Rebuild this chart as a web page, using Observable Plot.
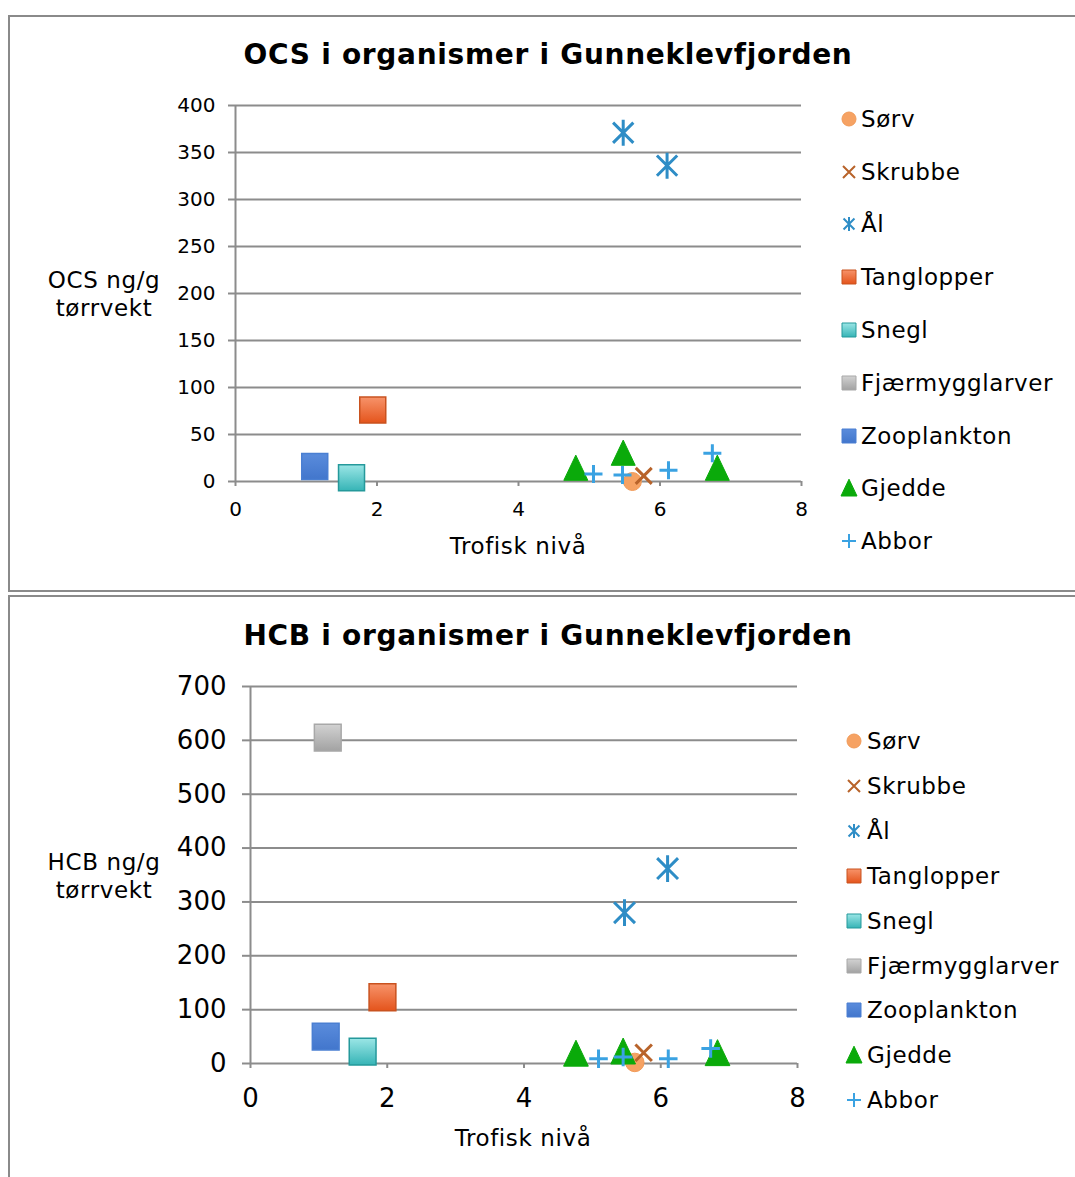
<!DOCTYPE html>
<html><head><meta charset="utf-8">
<script src="https://cdn.jsdelivr.net/npm/d3@7"></script>
<script src="https://cdn.jsdelivr.net/npm/@observablehq/plot@0.6"></script>
<style>
body{margin:0;background:#fff;}
#page{position:relative;width:1075px;height:1177px;overflow:hidden;font-family:"DejaVu Sans",Verdana,sans-serif;color:#000;background:#fff;}
.panel{position:absolute;left:8px;width:1120px;border:2px solid #8a8a8a;box-sizing:border-box;}
.t{position:absolute;white-space:nowrap;line-height:1;transform:translate(-50%,-50%);}
.tl{position:absolute;white-space:nowrap;line-height:1;transform:translate(0,-50%);}
.chart{position:absolute;left:0;}
.lg{position:absolute;}
</style></head><body>
<svg width="0" height="0" style="position:absolute">
<defs>
<linearGradient id="gOrange" x1="0" y1="0" x2="0" y2="1"><stop offset="0" stop-color="#F7936A"/><stop offset="1" stop-color="#E4541C"/></linearGradient>
<linearGradient id="gTeal" x1="0" y1="0" x2="0" y2="1"><stop offset="0" stop-color="#9BE6E6"/><stop offset="1" stop-color="#36B4B6"/></linearGradient>
<linearGradient id="gGray" x1="0" y1="0" x2="0" y2="1"><stop offset="0" stop-color="#D2D2D2"/><stop offset="1" stop-color="#A2A2A2"/></linearGradient>
<linearGradient id="gBlue" x1="0" y1="0" x2="0" y2="1"><stop offset="0" stop-color="#5A8CDC"/><stop offset="1" stop-color="#4276CC"/></linearGradient>
</defs></svg>
<div id="page">
  <div class="panel" style="top:15px;height:577px;"></div>
  <div class="panel" style="top:595px;height:700px;"></div>
  <div id="c1" class="chart" style="top:0px;"></div>
  <div id="c2" class="chart" style="top:596px;"></div>
</div>
<script>
// ---- data ----
const seriesNames = ["Sørv","Skrubbe","Ål","Tanglopper","Snegl","Fjærmygglarver","Zooplankton","Gjedde","Abbor"];
const xTicks = [0,2,4,6,8];
const ocsYTicks = [0,50,100,150,200,250,300,350,400];
const hcbYTicks = [0,100,200,300,400,500,600,700];

// OCS (ng/g tørrvekt) : [trofisk nivå, verdi]
const ocsSorv = [[5.61, 0]];
const ocsSkrubbe = [[5.77, 6]];
const ocsAal = [[5.48, 371],[6.10, 336]];
const ocsTanglopper = [[1.94, 76]];
const ocsSnegl = [[1.64, 4]];
const ocsFjaer = [];
const ocsZoo = [[1.12, 16]];
const ocsGjedde = [[4.81, 14],[5.48, 30],[6.81, 14]];
const ocsAbbor = [[5.06, 8],[5.47, 7],[6.12, 12],[6.74, 30]];

// HCB (ng/g tørrvekt)
const hcbSorv = [[5.62, 2]];
const hcbSkrubbe = [[5.75, 20]];
const hcbAal = [[5.47, 280],[6.10, 362]];
const hcbTanglopper = [[1.93, 123]];
const hcbSnegl = [[1.64, 22]];
const hcbFjaer = [[1.13, 605]];
const hcbZoo = [[1.10, 50]];
const hcbGjedde = [[4.76, 18],[5.45, 22],[6.83, 19]];
const hcbAbbor = [[5.09, 9],[5.45, 12],[6.11, 9],[6.73, 28]];

const ocsSeries = [ocsSorv, ocsSkrubbe, ocsAal, ocsTanglopper, ocsSnegl, ocsFjaer, ocsZoo, ocsGjedde, ocsAbbor];
const hcbSeries = [hcbSorv, hcbSkrubbe, hcbAal, hcbTanglopper, hcbSnegl, hcbFjaer, hcbZoo, hcbGjedde, hcbAbbor];

// ---- symbols ----
const R = s => Math.sqrt(s / Math.PI);
const symSquare = {draw(c, s){ const r = R(s); c.moveTo(-r,-r); c.lineTo(r,-r); c.lineTo(r,r); c.lineTo(-r,r); c.closePath(); }};
const symTri = {draw(c, s){ const r = R(s); c.moveTo(0,-1.1*r); c.lineTo(r,1.0*r); c.lineTo(-r,1.0*r); c.closePath(); }};
const symPlus = {draw(c, s){ const r = R(s); c.moveTo(-r,0); c.lineTo(r,0); c.moveTo(0,-r); c.lineTo(0,r); }};
const symTimes = {draw(c, s){ const r = R(s); c.moveTo(-r,-r); c.lineTo(r,r); c.moveTo(r,-r); c.lineTo(-r,r); }};
const symStar = {draw(c, s){ const r = R(s); const d = r*0.78; c.moveTo(-d,-d); c.lineTo(d,d); c.moveTo(d,-d); c.lineTo(-d,d); c.moveTo(0,-r); c.lineTo(0,r); }};
const symCircle = {draw(c, s){ const r = R(s); c.moveTo(r,0); c.arc(0,0,r,0,2*Math.PI); }};

const styles = {
  "Sørv":          {symbol: symCircle, r: 9,  fill: "#F6A263", stroke: "#F19A58", sw: 1, lr: 7},
  "Skrubbe":       {symbol: symTimes,  r: 8,  fill: "none", stroke: "#B8632A", sw: 3, lr: 6},
  "Ål":            {symbol: symStar,   r: 13, fill: "none", stroke: "#2E8DC6", sw: 3, lr: 7},
  "Tanglopper":    {symbol: symSquare, r: 13, fill: "url(#gOrange)", stroke: "#C9521F", sw: 1.5, lr: 7},
  "Snegl":         {symbol: symSquare, r: 13, fill: "url(#gTeal)", stroke: "#25999B", sw: 1.5, lr: 7},
  "Fjærmygglarver":{symbol: symSquare, r: 13, fill: "url(#gGray)", stroke: "#A8A8A8", sw: 1.5, lr: 7},
  "Zooplankton":   {symbol: symSquare, r: 13, fill: "url(#gBlue)", stroke: "#4A7FD2", sw: 1.5, lr: 7},
  "Gjedde":        {symbol: symTri,    r: 12, fill: "#0AAA0A", stroke: "#0AAA0A", sw: 1, lr: 8},
  "Abbor":         {symbol: symPlus,   r: 9,  fill: "none", stroke: "#3AA2E2", sw: 3, lr: 7}
};

function rows(seriesArr) {
  const out = [];
  seriesArr.forEach((arr, i) => arr.forEach(([x, y]) => out.push({series: seriesNames[i], x, y})));
  return out;
}

function makeChart(o) {
  const W = 1075;
  const data = rows(o.series);
  const marks = [
    Plot.ruleY(o.yTicks, {stroke: "#8c8c8c", strokeWidth: 2}),
    Plot.ruleX([0], {stroke: "#8c8c8c", strokeWidth: 2}),
    Plot.axisY({ticks: o.yTicks, tickSize: o.yTickSize, tickPadding: o.yPad, stroke: "#8c8c8c", strokeWidth: 2, fontSize: o.fontSize, label: null, tickFormat: d => String(d)}),
    Plot.axisX({ticks: xTicks, tickSize: 5, tickPadding: o.xPad, stroke: "#8c8c8c", strokeWidth: 2, fontSize: o.fontSize, label: null, tickFormat: d => String(d)})
  ];
  for (const s of seriesNames) {
    const st = styles[s];
    const d = data.filter(r => r.series === s);
    if (!d.length) continue;
    marks.push(Plot.dot(d, {x: "x", y: "y", symbol: st.symbol, r: st.r * o.scale, fill: st.fill, stroke: st.stroke, strokeWidth: st.sw}));
  }
  return Plot.plot({
    width: W, height: o.height,
    marginLeft: o.x0, marginRight: W - o.x8,
    marginTop: o.yTopPx - o.top, marginBottom: o.top + o.height - o.y0Px,
    x: {domain: [0, 8]},
    y: {domain: [0, o.yMax]},
    style: {fontFamily: "'DejaVu Sans', Verdana, sans-serif", fontSize: o.fontSize + "px", color: "#000", background: "transparent", overflow: "visible"},
    marks
  });
}

document.getElementById("c1").appendChild(makeChart({
  top: 0, height: 592, x0: 235, x8: 801, y0Px: 481, yTopPx: 105, yMax: 400,
  yTicks: ocsYTicks, series: ocsSeries, fontSize: 20, yTickSize: 7, yPad: 13, xPad: 15, scale: 1
}));
document.getElementById("c2").appendChild(makeChart({
  top: 596, height: 581, x0: 250, x8: 797, y0Px: 1063, yTopPx: 686, yMax: 700,
  yTicks: hcbYTicks, series: hcbSeries, fontSize: 26, yTickSize: 8, yPad: 16, xPad: 20, scale: 1.03
}));

// ---- text & legends ----
const page = document.getElementById("page");
function txt(s, x, y, size, cls = "t", weight = "normal", ls = 0.6) {
  const d = document.createElement("div");
  d.className = cls; d.textContent = s;
  d.style.left = x + "px"; d.style.top = y + "px";
  d.style.fontSize = size + "px"; d.style.fontWeight = weight;
  d.style.letterSpacing = ls + "px";
  page.appendChild(d);
}
txt("OCS i organismer i Gunneklevfjorden", 548, 55, 28, "t", "bold", 0.7);
txt("HCB i organismer i Gunneklevfjorden", 548, 636, 28, "t", "bold", 0.7);
txt("OCS ng/g", 104, 280, 23); txt("tørrvekt", 104, 308, 23);
txt("HCB ng/g", 104, 862, 23); txt("tørrvekt", 104, 890, 23);
txt("Trofisk nivå", 518, 546, 23);
txt("Trofisk nivå", 523, 1138, 23);

function legend(symX, textX, ys, size) {
  seriesNames.forEach((s, i) => {
    const st = styles[s];
    const svg = d3.create("svg").attr("width", 24).attr("height", 24)
      .attr("class", "lg").style("left", (symX - 12) + "px").style("top", (ys[i] - 12) + "px");
    svg.append("path").attr("transform", "translate(12,12)")
      .attr("d", d3.symbol(st.symbol, Math.PI * st.lr * st.lr)())
      .attr("fill", st.fill).attr("stroke", st.stroke)
      .attr("stroke-width", st.sw >= 2 ? 2 : 1);
    page.appendChild(svg.node());
    txt(s, textX, ys[i], size, "tl");
  });
}
legend(849, 861, [119,172,224,277,330,383,436,488,541], 23);
legend(854, 867, [741,786,831,876,921,966,1010,1055,1100], 23);
</script>
</body></html>
